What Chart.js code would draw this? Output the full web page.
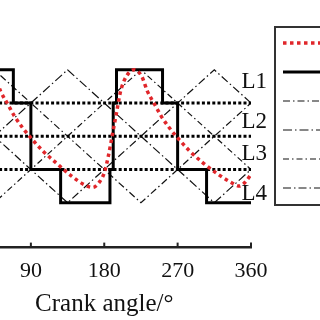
<!DOCTYPE html>
<html>
<head>
<meta charset="utf-8">
<script src="https://cdn.jsdelivr.net/npm/chart.js@4.4.0/dist/chart.umd.min.js"></script>
<style>
   html, body { margin: 0; padding: 0; background: #fff; overflow: hidden; width: 320px; height: 320px; }
   #wrap { position: absolute; left: -60px; top: 0; width: 420px; height: 320px; }
</style>
</head>
<body>
<div id="wrap"><canvas id="c" width="420" height="320"></canvas></div>
<script>
// crank angle ticks
const xTicks = [0, 90, 180, 270, 360];
const xTitle = "Crank angle/°";

// red dotted curve
const flowAngles = [0, 5, 10, 15, 20, 27, 37, 46, 53, 62, 70, 80, 90, 105, 120, 140, 155, 166, 174, 180,
   185, 190, 195, 200, 207, 217, 226, 233, 242, 250, 260, 270, 285, 300, 320, 335, 346, 354, 360];
const flowValues = [0.9, 1.4, 2.05, 2.7, 3.35, 3.8, 4.0, 3.8, 3.35, 2.95, 2.6, 2.25, 1.95, 1.55, 1.22, 0.8, 0.55, 0.46, 0.62, 0.9,
   1.4, 2.05, 2.7, 3.35, 3.8, 4.0, 3.8, 3.35, 2.95, 2.6, 2.25, 1.95, 1.55, 1.22, 0.85, 0.62, 0.5, 0.65, 0.85];

// solid step curve
const stepAngles = [0, 7, 7, 10, 10, 14, 14, 68.5, 68.5, 90, 90, 126.5, 126.5, 187, 187, 191, 191, 195, 195, 251.5, 251.5, 270, 270, 305.5, 305.5, 360];
const stepValues = [0, 0, 1, 1, 3, 3, 4, 4, 3, 3, 1, 1, 0, 0, 1, 1, 3, 3, 4, 4, 3, 3, 1, 1, 0, 0];

// four dash-dot triangle waves
const triAngles = [
   [0, 45, 225, 360],
   [0, 135, 315, 360],
   [0, 45, 225, 360],
   [0, 135, 315, 360],
];
const triValues = [
   [3, 4, 0, 3],
   [1, 4, 0, 1],
   [1, 0, 4, 1],
   [3, 0, 4, 3],
];
const triDashes = [[7, 3, 1.5, 3], [9, 3, 1.5, 3], [6, 3, 1.5, 3], [8, 3, 1.5, 3]];

// dotted level lines
const levelLines = [1, 2, 3];
const levelLabels = ["L1", "L2", "L3", "L4"];
const levelLabelY = [3.62, 2.42, 1.48, 0.26];
const levelLabelX = 348.3;

const SERIF = "'Liberation Serif', 'Times New Roman', serif";

function pts(xs, ys) {
   return xs.map((x, i) => ({ x, y: ys[i] }));
}

const datasets = [];

triAngles.forEach((xs, i) => {
   datasets.push({
      data: pts(xs, triValues[i]),
      borderColor: "#111",
      borderWidth: 1.2,
      borderDash: triDashes[i],
      pointRadius: 0,
      tension: 0,
      order: 5,
      legendRank: 2 + i,
   });
});

levelLines.forEach((v) => {
   datasets.push({
      data: pts([0, 360], [v, v]),
      borderColor: "#000",
      borderWidth: 3,
      borderDash: [3, 2.2],
      pointRadius: 0,
      order: 4,
   });
});

datasets.push({
   data: pts(stepAngles, stepValues),
   borderColor: "#000",
   borderWidth: 3,
   pointRadius: 0,
   tension: 0,
   order: 2,
   legendRank: 1,
});

datasets.push({
   data: pts(flowAngles, flowValues),
   borderColor: "#e0262a",
   borderWidth: 3.5,
   borderDash: [3.5, 3.5],
   pointRadius: 0,
   cubicInterpolationMode: "monotone",
   order: 1,
   legendRank: 0,
});

const extras = {
   id: "extras",
   afterDraw(chart) {
      const { ctx, chartArea } = chart;
      const xs = chart.scales.x;
      const ys = chart.scales.y;
      ctx.save();

      // inner tick marks
      ctx.strokeStyle = "#222";
      ctx.lineWidth = 2;
      xTicks.forEach((t) => {
         const px = xs.getPixelForValue(t);
         ctx.beginPath();
         ctx.moveTo(px, chartArea.bottom);
         ctx.lineTo(px, chartArea.bottom - 5);
         ctx.stroke();
      });

      // axis title
      ctx.fillStyle = "#111";
      ctx.font = `25px ${SERIF}`;
      ctx.textAlign = "center";
      ctx.textBaseline = "middle";
      ctx.fillText(xTitle, (chartArea.left + chartArea.right) / 2, chartArea.bottom + 57);

      // level labels
      ctx.font = `23px ${SERIF}`;
      ctx.textAlign = "left";
      levelLabels.forEach((lab, i) => {
         ctx.fillText(lab, xs.getPixelForValue(levelLabelX), ys.getPixelForValue(levelLabelY[i]));
      });

      // legend box
      const lx = 335, ly = 27, lh = 178;
      ctx.fillStyle = "#fff";
      ctx.fillRect(lx, ly, 200, lh);
      ctx.strokeStyle = "#333";
      ctx.lineWidth = 2;
      ctx.strokeRect(lx, ly, 200, lh);

      const entries = chart.data.datasets
         .filter((d) => d.legendRank !== undefined)
         .sort((a, b) => a.legendRank - b.legendRank);
      entries.forEach((d, i) => {
         const y = 43 + i * 29;
         ctx.strokeStyle = d.borderColor;
         ctx.lineWidth = d.borderWidth;
         ctx.setLineDash(d.borderDash || []);
         ctx.beginPath();
         ctx.moveTo(lx + 8, y);
         ctx.lineTo(lx + 120, y);
         ctx.stroke();
      });
      ctx.restore();
   },
};

new Chart(document.getElementById("c"), {
   type: "line",
   data: { datasets },
   plugins: [extras],
   options: {
      responsive: false,
      animation: false,
      layout: { padding: { left: 17.5, right: 109, top: 0, bottom: 26 } },
      plugins: { legend: { display: false }, tooltip: { enabled: false } },
      scales: {
         x: {
            type: "linear",
            min: 0,
            max: 360,
            afterBuildTicks: (s) => { s.ticks = xTicks.map((v) => ({ value: v })); },
            grid: { display: false, drawTicks: false },
            border: { display: true, color: "#222", width: 2.5 },
            ticks: { color: "#111", font: { family: SERIF, size: 22 }, padding: 10, maxRotation: 0 },
         },
         y: { display: false, min: -1.35, max: 6.1 },
      },
   },
});
</script>
</body>
</html>
